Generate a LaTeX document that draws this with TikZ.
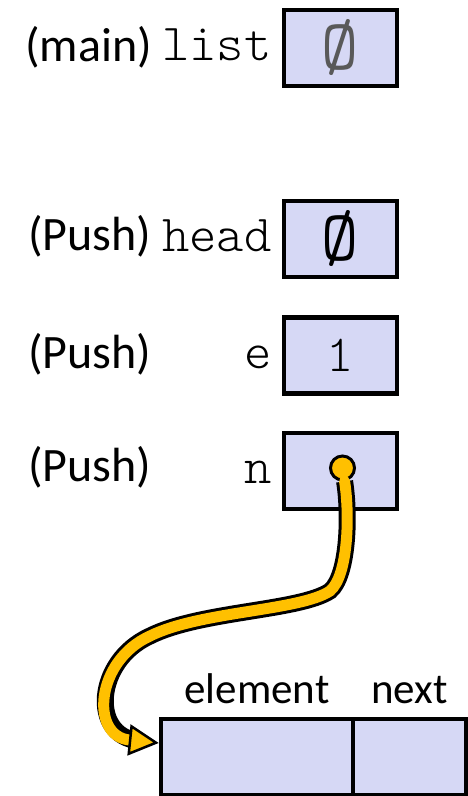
\documentclass[tikz,border=0pt]{standalone}
\usepackage{fontspec}
\setmainfont{Carlito}
\setmonofont{Latin Modern Mono Light}
\newfontfamily\nullfamily{Latin Modern Mono}
\usetikzlibrary{arrows.meta}
\definecolor{cellblue}{RGB}{214,216,245}
\definecolor{ptryellow}{RGB}{255,192,0}
\definecolor{nullgray}{RGB}{89,89,89}
\newcommand{\nullvalfont}{\nullfamily\fontsize{72}{74}\selectfont}
\tikzset{
  cell/.style={draw, line width=4.5pt, fill=cellblue, minimum width=113pt, minimum height=76pt,
    inner sep=0pt, font=\fontsize{52}{56}\selectfont\ttfamily},
  frame/.style={inner sep=0pt, anchor=base west, font=\fontsize{48}{52}\selectfont},
  varname/.style={inner sep=0pt, anchor=base east, font=\fontsize{52}{56}\selectfont\ttfamily},
  field/.style={inner sep=0pt, anchor=base, font=\fontsize{43}{48}\selectfont},
  ptrdot/.style={circle, draw=black, line width=3pt, fill=ptryellow, minimum size=24pt, inner sep=0pt},
  ptrline/.style={ptryellow, line width=11pt, line cap=round,
    preaction={draw=black, line width=17pt, -, shorten >=20pt},
    -{Triangle[length=30pt, width=31pt, fill=ptryellow, color=black, line width=2.5pt]}}
}
\begin{document}
\begin{tikzpicture}[x=1pt, y=1pt]
    \useasboundingbox (0,0) rectangle (468,796);

    \node [cell] (list) at (340.5,748) {\nullvalfont\raisebox{-4pt}{\color{nullgray}Ø}};
    \node [cell] (head) at (340.5,557) {\nullvalfont\raisebox{-4pt}{Ø}};
    \node [cell] (e) at (340.5,440.5) {1};
    \node [cell] (n) at (340.5,325) {};

    \node [frame] (mainframe) at (25,734) {(main)};
    \node [frame] (pushhead) at (28,545) {(Push)};
    \node [frame] (pushe) at (28,427) {(Push)};
    \node [frame] (pushn) at (28,314) {(Push)};

    \node [varname] (listname) at ([xshift=-10pt, yshift=-13pt]list.west) {list};
    \node [varname] (headname) at ([xshift=-10pt, yshift=-13pt]head.west) {head};
    \node [varname] (ename) at ([xshift=-10pt, yshift=-13pt]e.west) {e};
    \node [varname] (nname) at ([xshift=-10pt, yshift=-13pt]n.west) {n};

    \node [cell, minimum width=192pt] (elem) at (257,39) {};
    \node [cell] (next) at (409.5,39) {};
    \node [field] (elemname) at ([yshift=13pt]elem.north) {element};
    \node [field] (nextname) at ([yshift=13pt]next.north) {next};

    \node [ptrdot] (dot) at ([xshift=2pt, yshift=3pt]n.center) {};
    \draw [ptrline] (dot) .. controls (350,280) and (348,220) .. (330,205)
        .. controls (300,185) and (200,185) .. (150,160)
        .. controls (95,135) and (90,60) .. ([yshift=14pt]elem.west);
\end{tikzpicture}
\end{document}
